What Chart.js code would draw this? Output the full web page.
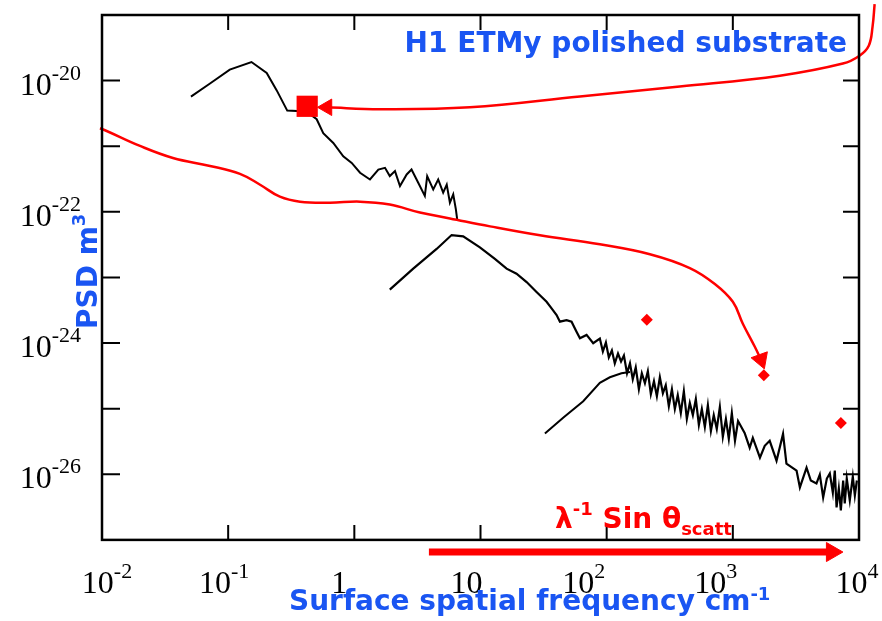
<!DOCTYPE html>
<html>
<head>
<meta charset="utf-8">
<script src="https://cdn.jsdelivr.net/npm/chart.js@4.4.1/dist/chart.umd.min.js"></script>
<style>
  html, body { margin: 0; padding: 0; background: #fff; }
  canvas { display: block; }
</style>
</head>
<body>
<canvas id="psd" width="882" height="621"></canvas>
<script>
// PSD of the H1 ETMy polished substrate, log-log

// low frequency segment (cm^-1, m^3)
let seg1Freq = [0.0507, 0.0718, 0.103, 0.153, 0.202, 0.242, 0.294, 0.419, 0.503, 0.567, 0.681, 0.817, 0.953, 1.11, 1.33, 1.55, 1.75, 1.91, 2.10, 2.30, 2.60, 2.84, 3.21, 3.62, 3.78, 4.22, 4.62, 5.06, 5.40, 5.72, 6.08, 6.38, 6.53]
let seg1Psd  = [5.69e-21, 9.03e-21, 1.47e-20, 1.92e-20, 1.31e-20, 7.16e-21, 3.49e-21, 3.37e-21, 2.58e-21, 1.58e-21, 1.12e-21, 7.03e-22, 5.57e-22, 3.94e-22, 3.11e-22, 4.41e-22, 4.68e-22, 3.51e-22, 4.17e-22, 2.47e-22, 3.71e-22, 4.41e-22, 2.77e-22, 1.75e-22, 3.51e-22, 2.20e-22, 3.11e-22, 1.96e-22, 2.60e-22, 1.38e-22, 1.85e-22, 1.09e-22, 7.73e-23]

// mid frequency segment
let seg2Freq = [1.91, 2.93, 4.49, 5.90, 7.29, 9.89, 13.0, 16.1, 19.3, 23.2, 27.8, 33.4, 36.6, 40.1, 42.6, 48.1, 52.7, 57.7, 61.4, 69.3, 78.2,
	88.3, 93.3, 98.6, 104, 110, 116, 123, 130, 137, 145, 153, 161, 170, 180, 190, 201, 212, 224, 237, 250, 264, 279, 294, 311, 329, 347, 366, 387, 409, 432, 456, 482, 509, 538, 568, 600, 634, 670, 706, 746, 789, 833, 881, 929, 982, 1040, 1100,
	1240, 1360, 1440, 1640, 1790, 1960, 2220, 2500, 2660,
	3200, 3400, 3840, 4150, 4600, 4890, 5200, 5560, 5870, 6200, 6430, 6640, 6920, 7180, 7490, 7710, 8000, 8450, 8930, 9270, 9620]
let seg2Psd  = [6.52e-24, 1.36e-23, 2.72e-23, 4.43e-23, 4.23e-23, 2.88e-23, 1.92e-23, 1.36e-23, 1.14e-23, 8.51e-24, 6.01e-24, 4.25e-24, 3.37e-24, 2.67e-24, 2.12e-24, 2.24e-24, 2.12e-24, 1.49e-24, 1.18e-24, 1.33e-24, 9.93e-25,
	1.17e-24, 7.43e-25, 1.02e-24, 6.04e-25, 7.71e-25, 4.90e-25, 6.93e-25, 5.25e-25, 6.47e-25, 3.46e-25, 4.90e-25, 2.81e-25, 4.26e-25, 1.98e-25, 3.46e-25, 2.44e-25, 3.71e-25, 1.66e-25, 2.62e-25, 1.55e-25, 3.01e-25, 1.72e-25, 2.28e-25, 1.09e-25, 1.98e-25, 9.86e-26, 1.61e-25, 8.58e-26, 1.85e-25, 6.97e-26, 1.22e-25, 8.00e-26, 1.40e-25, 5.65e-26, 9.86e-26, 5.27e-26, 1.13e-25, 4.58e-26, 8.00e-26, 4.91e-26, 1.06e-25, 3.72e-26, 6.97e-26, 3.47e-26, 8.58e-26, 3.24e-26, 6.49e-26,
	4.28e-26, 2.54e-26, 3.59e-26, 1.79e-26, 2.72e-26, 3.24e-26, 1.61e-26, 4.13e-26, 1.45e-26,
	1.14e-26, 6.30e-27, 1.26e-26, 8.04e-27, 7.23e-27, 9.89e-27, 4.43e-27, 8.61e-27, 1.03e-26, 5.28e-27, 1.14e-26, 3.13e-27, 6.08e-27, 2.82e-27, 8.04e-27, 3.60e-27, 8.61e-27, 4.00e-27, 9.23e-27, 4.76e-27, 8.04e-27]

// high frequency segment (rising part)
let seg3Freq = [32.4, 45.2, 65.2, 88.3, 106, 131, 153]
let seg3Psd  = [4.17e-26, 7.28e-26, 1.30e-25, 2.47e-25, 3.01e-25, 3.46e-25, 3.61e-25]

// red markers
let diamondFreq = [208, 1760, 7180]
let diamondPsd  = [2.27e-24, 3.22e-25, 6.05e-26]
let squareFreq = [0.423]
let squarePsd  = [4.06e-21]

// red guide curve with arrow (starts left of the frame)
let guideFreq = [0.00156, 0.00284, 0.00964, 0.0200, 0.0365, 0.0718, 0.124, 0.179, 0.257, 0.371, 0.641, 1.11, 1.91, 3.31, 5.72, 11.9, 29.6, 88.3, 220, 456, 720, 1000, 1200, 1490, 1670]
let guidePsd  = [8.15e-21, 4.51e-21, 1.88e-21, 1.01e-21, 6.62e-22, 5.01e-22, 3.79e-22, 2.59e-22, 1.70e-22, 1.43e-22, 1.38e-22, 1.43e-22, 1.29e-22, 9.75e-23, 7.93e-23, 6.00e-23, 4.38e-23, 3.20e-23, 2.26e-23, 1.39e-23, 7.94e-24, 4.25e-24, 1.97e-24, 8.85e-25, 5.62e-25]

// red pointer from the title to the square
let pointerFreq = [13300, 12800, 11950, 10100, 7450, 2360, 380, 61.4, 8.24, 1.60, 0.607]
let pointerPsd  = [1.47e-19, 6.58e-20, 3.40e-20, 2.40e-20, 1.82e-20, 1.19e-20, 8.15e-21, 5.74e-21, 3.92e-21, 3.66e-21, 3.92e-21]

// red arrow under the axis
let arrowFreq = [3.90, 6100]
let arrowPsd  = [6.53e-28, 6.53e-28]

// ticks
let xTickValues = [0.01, 0.1, 1, 10, 100, 1000, 10000]
let xTickLabels = [['10', '-2'], ['10', '-1'], ['1', ''], ['10', ''], ['10', '2'], ['10', '3'], ['10', '4']]
let xTickNudge  = [5, -4, -15, -14, -23, -17, -2]
let yTickValues = [1e-26, 1e-25, 1e-24, 1e-23, 1e-22, 1e-21, 1e-20]
let yLabelValues = [1e-20, 1e-22, 1e-24, 1e-26]
let yTickLabels = [['10', '-20'], ['10', '-22'], ['10', '-24'], ['10', '-26']]
const yFrameMin = 1e-27

const RED = '#ff0000'
const BLUE = '#1a55f2'
const SANS = '"DejaVu Sans", sans-serif'
const SERIF = '"Liberation Serif", "Times New Roman", serif'

let pts = (xs, ys) => xs.map((v, i) => ({ x: v, y: ys[i] }))
let headAt = (n, r) => ctx => ctx.dataIndex === n - 1 ? r : 0

// draw a row of text pieces: [text, font, dy]
function drawRuns(ctx, runs, x, y) {
	runs.forEach(([t, f, dy]) => {
		ctx.font = f
		ctx.fillText(t, x, y + dy)
		x += ctx.measureText(t).width
	})
}

function powerWidth(ctx, base, exp) {
	ctx.font = '32px ' + SERIF
	let w = ctx.measureText(base).width
	ctx.font = '22px ' + SERIF
	return w + (exp ? ctx.measureText(exp).width : 0)
}

function drawPower(ctx, base, exp, x, baseline) {
	drawRuns(ctx, [[base, '32px ' + SERIF, 0], [exp, '22px ' + SERIF, -15]], x, baseline)
}

const framePlugin = {
	id: 'frame',
	afterDatasetsDraw(chart) {
		const { ctx, chartArea: a, scales: { x, y } } = chart
		const bottom = y.getPixelForValue(yFrameMin)
		ctx.save()

		// frame
		ctx.strokeStyle = '#000'
		ctx.lineWidth = 2.5
		ctx.strokeRect(a.left, a.top, a.right - a.left, bottom - a.top)

		// inward ticks
		ctx.lineWidth = 2
		ctx.beginPath()
		xTickValues.slice(1, -1).forEach(v => {
			let px = x.getPixelForValue(v)
			ctx.moveTo(px, bottom); ctx.lineTo(px, bottom - 15)
			ctx.moveTo(px, a.top); ctx.lineTo(px, a.top + 15)
		})
		yTickValues.forEach(v => {
			let py = y.getPixelForValue(v)
			ctx.moveTo(a.left, py); ctx.lineTo(a.left + 18, py)
			ctx.moveTo(a.right, py); ctx.lineTo(a.right - 16, py)
		})
		ctx.stroke()

		// tick labels
		ctx.fillStyle = '#000'
		ctx.textAlign = 'left'
		ctx.textBaseline = 'alphabetic'
		xTickValues.forEach((v, i) => {
			let [b, e] = xTickLabels[i]
			let w = powerWidth(ctx, b, e)
			let cx = x.getPixelForValue(v) + xTickNudge[i]
			drawPower(ctx, b, e, cx - w / 2, 593)
		})
		yLabelValues.forEach((v, i) => {
			let [b, e] = yTickLabels[i]
			let w = powerWidth(ctx, b, e)
			drawPower(ctx, b, e, 81 - w, y.getPixelForValue(v) + 14)
		})

		// annotations
		ctx.fillStyle = BLUE
		ctx.font = 'bold 28px ' + SANS
		ctx.textAlign = 'right'
		ctx.fillText('H1 ETMy polished substrate', 847, 52)
		ctx.textAlign = 'left'

		drawRuns(ctx, [
			['Surface spatial frequency cm', 'bold 28px ' + SANS, 0],
			['-1', 'bold 18px ' + SANS, -10],
		], 289, 610)

		ctx.save()
		ctx.translate(97, 329)
		ctx.rotate(-Math.PI / 2)
		drawRuns(ctx, [
			['PSD m', 'bold 28px ' + SANS, 0],
			['3', 'bold 18px ' + SANS, -12],
		], 0, 0)
		ctx.restore()

		ctx.fillStyle = RED
		drawRuns(ctx, [
			['λ', 'bold 28px ' + SANS, 0],
			['-1', 'bold 18px ' + SANS, -13],
			[' Sin θ', 'bold 28px ' + SANS, 0],
			['scatt', 'bold 18px ' + SANS, 7],
		], 555, 528)

		ctx.restore()
	}
}

let redCurve = (xs, ys, width, headR, rot) => ({
	data: pts(xs, ys),
	showLine: true,
	borderColor: RED,
	borderWidth: width,
	tension: 0.4,
	capBezierPoints: false,
	clip: false,
	pointStyle: 'triangle',
	rotation: rot,
	pointRadius: headAt(xs.length, headR),
	pointHoverRadius: headAt(xs.length, headR),
	pointBackgroundColor: RED,
	pointBorderColor: RED,
	pointBorderWidth: 1,
})

let blackCurve = (xs, ys, width) => ({
	data: pts(xs, ys),
	showLine: true,
	borderColor: '#000',
	borderWidth: width,
	tension: 0,
	pointRadius: 0,
	pointHoverRadius: 0,
})

new Chart(document.getElementById('psd'), {
	type: 'scatter',
	data: {
		datasets: [
			{
				data: pts(squareFreq, squarePsd),
				pointStyle: 'rect',
				pointRadius: 15,
				backgroundColor: RED,
				borderColor: RED,
				borderWidth: 0,
			},
			{
				data: pts(diamondFreq, diamondPsd),
				pointStyle: 'rectRot',
				pointRadius: 6,
				backgroundColor: RED,
				borderColor: RED,
				borderWidth: 0,
			},
			redCurve(guideFreq, guidePsd, 2.5, 10, 160),
			redCurve(pointerFreq, pointerPsd, 2.5, 9.5, 270),
			Object.assign(redCurve(arrowFreq, arrowPsd, 7, 11, 90), { tension: 0 }),
			blackCurve(seg1Freq, seg1Psd, 2),
			blackCurve(seg2Freq, seg2Psd, 2.2),
			blackCurve(seg3Freq, seg3Psd, 2),
		]
	},
	options: {
		responsive: false,
		animation: false,
		events: [],
		// plot frame ends at 1e-27; the extra strip below holds the red arrow
		layout: { padding: { left: 102, right: 23, top: 11, bottom: 55 } },
		plugins: { legend: { display: false }, tooltip: { enabled: false } },
		scales: {
			x: { type: 'logarithmic', min: 0.01, max: 10000, display: false },
			y: { type: 'logarithmic', min: 4e-28, max: 1e-19, display: false },
		}
	},
	plugins: [framePlugin]
});
</script>
</body>
</html>
